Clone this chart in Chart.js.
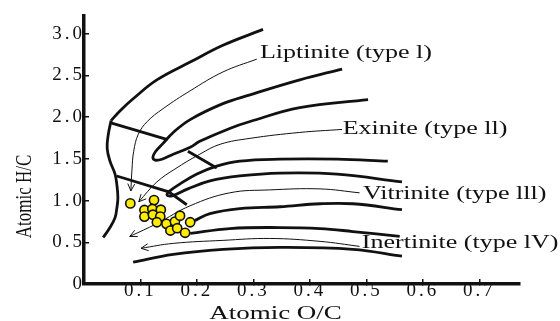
<!DOCTYPE html>
<html>
<head>
<meta charset="utf-8">
<script src="https://cdn.jsdelivr.net/npm/chart.js@4.4.1/dist/chart.umd.min.js"></script>
<style>
  html, body { margin: 0; padding: 0; background: #fff; }
</style>
</head>
<body>
<canvas id="chart" width="560" height="321"></canvas>
<script>
// Van Krevelen diagram: atomic H/C against atomic O/C, kerogen bands + samples

const xTickValues = [0.1, 0.2, 0.3, 0.4, 0.5, 0.6, 0.7];
const xTickLabels = ["0.1", "0.2", "0.3", "0.4", "0.5", "0.6", "0.7"];
const yTickValues = [0, 0.5, 1, 1.5, 2, 2.5, 3];
const yTickLabels = ["0", "0.5", "1.0", "1.5", "2.0", "2.5", "3.0"];

// sample points [O/C, H/C]
const samples = [
  [0.082, 0.966], [0.124, 1.006], [0.107, 0.887], [0.121, 0.899],
  [0.136, 0.891], [0.107, 0.808], [0.122, 0.831], [0.135, 0.808],
  [0.129, 0.740], [0.146, 0.721], [0.161, 0.748], [0.170, 0.819],
  [0.188, 0.740], [0.153, 0.641], [0.165, 0.669], [0.179, 0.614],
];

// band boundaries (thick)
const outerArc = [[0.317, 3.052], [0.246, 2.862], [0.188, 2.660], [0.129, 2.447],
  [0.087, 2.221], [0.064, 2.078], [0.048, 1.960]];
const leftEdge = [[0.048, 1.960], [0.043, 1.793], [0.041, 1.627], [0.046, 1.473],
  [0.055, 1.318], [0.058, 1.200], [0.060, 1.033], [0.058, 0.903], [0.055, 0.796],
  [0.046, 0.677], [0.034, 0.558]];
const bandTypeI = [[0.457, 2.577], [0.382, 2.447], [0.294, 2.268], [0.246, 2.162],
  [0.188, 1.971], [0.158, 1.817], [0.140, 1.686], [0.127, 1.591], [0.122, 1.520],
  [0.126, 1.485], [0.138, 1.496], [0.158, 1.556], [0.188, 1.639], [0.205, 1.710],
  [0.258, 1.865], [0.294, 1.948], [0.382, 2.114], [0.503, 2.209]];
const bandTypeII = [[0.538, 1.473], [0.448, 1.496], [0.347, 1.496], [0.276, 1.473],
  [0.235, 1.413], [0.200, 1.318], [0.170, 1.200], [0.152, 1.116], [0.147, 1.069],
  [0.156, 1.057], [0.184, 1.140], [0.223, 1.235], [0.276, 1.295], [0.347, 1.330],
  [0.448, 1.318], [0.563, 1.223]];
const upperIII = [[0.196, 0.760], [0.223, 0.843], [0.276, 0.903], [0.347, 0.926],
  [0.418, 0.962], [0.476, 0.962], [0.563, 0.891]];
const lowerIII = [[0.188, 0.606], [0.258, 0.665], [0.347, 0.677], [0.418, 0.665],
  [0.476, 0.629], [0.559, 0.570]];
const lowerIV = [[0.087, 0.261], [0.158, 0.356], [0.246, 0.416], [0.347, 0.439],
  [0.476, 0.416], [0.563, 0.333]];

// maturity zone separators (straight)
const cross1 = [[0.049, 1.928], [0.148, 1.730]];
const cross2 = [[0.184, 1.591], [0.235, 1.390]];
const cross3 = [[0.058, 1.295], [0.150, 1.105], [0.182, 0.950]];

// evolution paths (thin, arrow at end)
const pathI = [[0.306, 2.696], [0.246, 2.542], [0.188, 2.316], [0.140, 2.102],
  [0.112, 1.948], [0.096, 1.793], [0.088, 1.591], [0.085, 1.378], [0.083, 1.116]];
const pathII = [[0.457, 1.853], [0.382, 1.817], [0.294, 1.746], [0.241, 1.675],
  [0.205, 1.556], [0.161, 1.378], [0.129, 1.223], [0.097, 0.986]];
const pathIII = [[0.488, 1.093], [0.418, 1.140], [0.329, 1.128], [0.258, 1.093],
  [0.188, 0.938], [0.129, 0.724], [0.081, 0.570]];
const pathIV = [[0.488, 0.451], [0.418, 0.511], [0.329, 0.546], [0.246, 0.523],
  [0.158, 0.487], [0.101, 0.428]];

const typeNames = ["Liptinite (type l)", "Exinite (type ll)", "Vitrinite (type lll)", "Inertinite (type lV)"];
const typeAnchors = [[0.3115, 2.708], [0.458, 1.793], [0.494, 1.021], [0.492, 0.428]];

const pts = (arr) => arr.map(([x, y]) => ({ x, y }));
const thick = (arr, tension = 0.4) => ({
  data: pts(arr), showLine: true, pointRadius: 0, borderColor: "#111",
  borderWidth: 2.8, tension, fill: false,
});
const thin = (arr) => ({
  data: pts(arr), showLine: true, pointRadius: 0, borderColor: "#111",
  borderWidth: 1, tension: 0.4, fill: false, arrow: true,
});

const serif = "'Liberation Serif', 'Times New Roman', serif";

const decorate = {
  id: "decorate",
  beforeDraw(chart) {
    chart.ctx.letterSpacing = "3px";
  },
  afterDatasetsDraw(chart) {
    const ctx = chart.ctx;
    chart.data.datasets.forEach((ds, i) => {
      if (!ds.arrow) return;
      const el = chart.getDatasetMeta(i).data;
      const end = el[el.length - 1];
      let fx = end.cp1x, fy = end.cp1y;
      if (fx === undefined || Math.hypot(end.x - fx, end.y - fy) < 0.5) {
        fx = el[el.length - 2].x; fy = el[el.length - 2].y;
      }
      const a = Math.atan2(end.y - fy, end.x - fx);
      ctx.save();
      ctx.strokeStyle = "#111";
      ctx.lineWidth = 1;
      ctx.beginPath();
      [-1, 1].forEach((s) => {
        ctx.moveTo(end.x, end.y);
        ctx.lineTo(end.x - 8 * Math.cos(a + s * 0.45), end.y - 8 * Math.sin(a + s * 0.45));
      });
      ctx.stroke();
      ctx.restore();
    });
  },
  afterDraw(chart) {
    const ctx = chart.ctx;
    const xs = chart.scales.x, ys = chart.scales.y;
    ctx.save();
    ctx.letterSpacing = "0px";
    ctx.fillStyle = "#111";

    // band names, horizontally widened like the source figure
    ctx.font = "19px " + serif;
    ctx.textAlign = "left";
    ctx.textBaseline = "alphabetic";
    typeNames.forEach((t, i) => {
      const px = xs.getPixelForValue(typeAnchors[i][0]);
      const py = ys.getPixelForValue(typeAnchors[i][1]);
      ctx.save();
      ctx.translate(px, py);
      ctx.scale(1.37, 1);
      ctx.fillText(t, 0, 0);
      ctx.restore();
    });

    // x title
    ctx.font = "18px " + serif;
    ctx.textAlign = "center";
    ctx.save();
    ctx.translate(275.5, 319);
    ctx.scale(1.5, 1);
    ctx.fillText("Atomic O/C", 0, 0);
    ctx.restore();

    // y title
    ctx.font = "17px " + serif;
    ctx.save();
    ctx.translate(31, 196.5);
    ctx.rotate(-Math.PI / 2);
    ctx.scale(1, 1.3);
    ctx.fillText("Atomic H/C", 0, 0);
    ctx.restore();

    ctx.restore();
    ctx.letterSpacing = "0px";
  },
};

new Chart(document.getElementById("chart"), {
  type: "scatter",
  data: {
    datasets: [
      {
        data: pts(samples), pointRadius: 4.6, pointBorderWidth: 1.6,
        backgroundColor: "#ffec00", borderColor: "#111", showLine: false,
      },
      thick(outerArc), thick(leftEdge), thick(bandTypeI), thick(bandTypeII),
      thick(upperIII), thick(lowerIII), thick(lowerIV),
      thick(cross1, 0), thick(cross2, 0), thick(cross3, 0),
      thin(pathI), thin(pathII), thin(pathIII), thin(pathIV),
    ],
  },
  options: {
    responsive: false,
    animation: false,
    devicePixelRatio: 1,
    layout: { padding: { top: 13, right: 40, left: 0, bottom: 0 } },
    plugins: { legend: { display: false }, tooltip: { enabled: false } },
    scales: {
      x: {
        type: "linear", min: 0, max: 0.772,
        afterBuildTicks: (s) => { s.ticks = xTickValues.map((v) => ({ value: v })); },
        afterFit: (s) => { s.height = 37; },
        ticks: {
          callback: (v, i) => xTickLabels[i],
          font: { family: serif, size: 19 }, color: "#111",
          padding: 1, maxRotation: 0, autoSkip: false,
        },
        grid: { drawOnChartArea: false, drawTicks: true, tickLength: -5, color: "#111", lineWidth: 1.5 },
        border: { display: true, color: "#111", width: 3.5 },
      },
      y: {
        type: "linear", min: 0, max: 3.22,
        afterBuildTicks: (s) => { s.ticks = yTickValues.map((v) => ({ value: v })); },
        afterFit: (s) => { s.width = 84; },
        ticks: {
          callback: (v, i) => yTickLabels[i],
          font: { family: serif, size: 19 }, color: "#111",
          padding: 4, autoSkip: false,
        },
        grid: { drawOnChartArea: false, drawTicks: true, tickLength: -5, color: "#111", lineWidth: 1.5 },
        border: { display: true, color: "#111", width: 3.5 },
      },
    },
  },
  plugins: [decorate],
});
</script>
</body>
</html>
